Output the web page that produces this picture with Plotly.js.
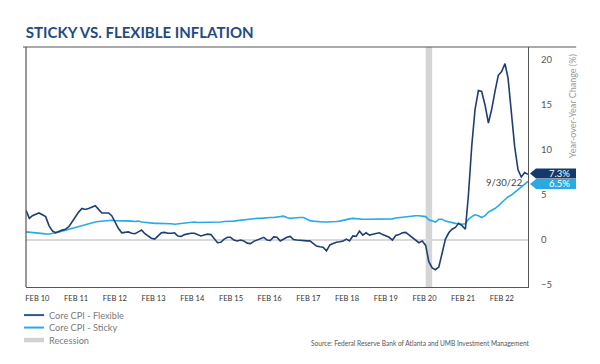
<!DOCTYPE html>
<html>
<head>
<meta charset="utf-8">
<script src="https://cdn.plot.ly/plotly-3.0.1.min.js"></script>
<style>
html,body{margin:0;padding:0;background:#fff;}
#chart{width:600px;height:364px;}
</style>
</head>
<body>
<div id="chart"></div>
<script>
// ---- Data (monthly, Jan 2010 .. Sep 2022), year-over-year % change ----
const startYear = 2010;
const startMonth = 1;
const flexible = [
  // 2010
  3.3, 2.4, 2.7, 2.9, 3.0, 2.8, 2.6, 1.6, 1.0, 0.8, 1.0, 1.1,
  // 2011
  1.2, 1.5, 2.0, 2.6, 3.1, 3.5, 3.4, 3.5, 3.7, 3.8, 3.4, 3.0,
  // 2012
  3.0, 3.0, 2.7, 2.0, 1.3, 0.8, 0.85, 0.9, 0.75, 0.7, 0.9, 1.1,
  // 2013
  0.7, 0.4, 0.2, 0.1, 0.4, 0.8, 0.85, 0.75, 0.75, 0.8, 0.45, 0.4,
  // 2014
  0.6, 0.7, 0.75, 0.75, 0.6, 0.45, 0.55, 0.65, 0.6, 0.1, -0.3, -0.25,
  // 2015
  0.1, 0.3, 0.3, 0.0, -0.1, 0.0, -0.1, -0.35, -0.4, -0.15, 0.0, 0.2,
  // 2016
  0.3, 0.0, -0.05, 0.35, 0.3, -0.1, 0.1, 0.3, 0.4, 0.05, 0.0, -0.05,
  // 2017
  -0.1, -0.1, -0.1, -0.4, -0.67, -0.75, -0.8, -1.2, -0.55, -0.4, -0.25, -0.2,
  // 2018
  -0.1, 0.1, -0.1, 0.45, 0.4, 1.0, 0.55, 0.8, 0.55, 0.65, 0.75, 0.8,
  // 2019
  0.6, 0.4, 0.3, 0.0, 0.5, 0.6, 0.8, 0.85, 0.55, 0.2, -0.05, -0.3,
  // 2020
  -0.1, -0.6, -2.4, -3.1, -3.3, -3.0, -1.5, 0.1, 0.8, 1.2, 1.4, 1.85,
  // 2021
  1.6, 1.2, 5.0, 10.5, 14.5, 16.6, 16.5, 15.0, 13.0, 14.5, 16.5, 18.3,
  // 2022
  18.7, 19.6, 18.0, 14.0, 10.4, 7.8, 7.0, 7.5, 7.3
];
const sticky = [
  // 2010
  0.9, 0.85, 0.8, 0.75, 0.72, 0.7, 0.68, 0.67, 0.7, 0.8, 0.9, 1.0,
  // 2011
  1.1, 1.2, 1.3, 1.37, 1.45, 1.6, 1.74, 1.8, 1.9, 2.0, 2.05, 2.1,
  // 2012
  2.1, 2.15, 2.2, 2.15, 2.15, 2.15, 2.1, 2.1, 2.1, 2.05, 2.1, 2.0,
  // 2013
  1.95, 1.9, 1.85, 1.85, 1.85, 1.85, 1.85, 1.8, 1.8, 1.75, 1.8, 1.8,
  // 2014
  1.85, 1.95, 2.0, 2.0, 1.95, 1.95, 1.95, 1.95, 2.0, 2.0, 2.0, 2.0,
  // 2015
  2.05, 2.05, 2.1, 2.1, 2.15, 2.2, 2.25, 2.3, 2.3, 2.35, 2.4, 2.4,
  // 2016
  2.45, 2.45, 2.5, 2.5, 2.55, 2.6, 2.65, 2.5, 2.4, 2.45, 2.5, 2.5,
  // 2017
  2.5, 2.3, 2.15, 2.1, 2.05, 2.0, 2.0, 2.0, 2.0, 2.05, 2.05, 2.1,
  // 2018
  2.2, 2.3, 2.35, 2.4, 2.35, 2.3, 2.3, 2.3, 2.3, 2.3, 2.3, 2.3,
  // 2019
  2.3, 2.35, 2.35, 2.35, 2.45, 2.5, 2.55, 2.6, 2.65, 2.7, 2.7, 2.7,
  // 2020
  2.65, 2.6, 2.25, 2.1, 2.0, 2.3, 2.3, 2.1, 2.0, 1.95, 1.85, 1.8,
  // 2021
  1.75, 1.8, 2.3, 2.6, 2.8, 2.7, 2.5, 2.7, 3.1, 3.3, 3.5, 3.8,
  // 2022
  4.2, 4.5, 4.8, 5.0, 5.3, 5.6, 5.85, 6.2, 6.5
];
const xTickLabels = ["FEB 10","FEB 11","FEB 12","FEB 13","FEB 14","FEB 15","FEB 16",
                     "FEB 17","FEB 18","FEB 19","FEB 20","FEB 21","FEB 22"];
const yTickVals = [-5, 0, 5, 10, 15, 20];
const recession = {start: "2020-02-01", end: "2020-04-01"};
const endDateLabel = "9/30/22";
const flexLabel = "7.3%";
const stickyLabel = "6.5%";

// ---- Build monthly dates ----
function monthDate(i) {
  const y = startYear + Math.floor((startMonth - 1 + i) / 12);
  const m = ((startMonth - 1 + i) % 12) + 1;
  return y + "-" + String(m).padStart(2, "0") + "-01";
}
const dates = flexible.map((_, i) => monthDate(i));
const xStart = dates[0], xEnd = dates[dates.length - 1];

// tick label positions along the axis (fraction of axis width)
const t0 = Date.parse(xStart), t1 = Date.parse(xEnd);
const tickVals = xTickLabels.map((_, k) => {
  const frac = (11.5 + 38.7 * k) / 502;
  return new Date(t0 + frac * (t1 - t0)).toISOString().slice(0, 10);
});

const yRange = [-5.22, 21.44];
const yToPaper = v => (v - yRange[0]) / (yRange[1] - yRange[0]);

const navy = "#1d3f73";
const sky = "#29abe2";
const frame = "#555555";
const font = "Lato, 'Open Sans', sans-serif";

const traces = [
  {x: dates, y: sticky, type: "scatter", mode: "lines", name: "Core CPI - Sticky",
   line: {color: sky, width: 1.6}, hoverinfo: "skip"},
  {x: dates, y: flexible, type: "scatter", mode: "lines", name: "Core CPI - Flexible",
   line: {color: navy, width: 1.6}, hoverinfo: "skip"}
];

const lastFlex = flexible[flexible.length - 1];
const lastSticky = sticky[sticky.length - 1];

function tagPath() {
  return "M 2 0 L 8 5 L 48 5 L 48 -5 L 8 -5 Z";
}

const shapes = [
  // recession band
  {type: "rect", xref: "x", yref: "paper", x0: recession.start, x1: recession.end, y0: 0, y1: 1,
   fillcolor: "#d4d5d7", line: {width: 0}, layer: "below"},
  // top frame line (extends past right axis)
  {type: "line", xref: "paper", yref: "paper", x0: -0.006, x1: 1.096, y0: 1, y1: 1,
   line: {color: frame, width: 1.2}},
  // left frame line
  {type: "line", xref: "paper", yref: "paper", x0: 0, x1: 0, y0: 0, y1: 1,
   line: {color: frame, width: 1.2}},
  // value tags
  {type: "path", xref: "paper", yref: "paper", xsizemode: "pixel", ysizemode: "pixel",
   xanchor: 1, yanchor: yToPaper(lastFlex) + 0.003, path: tagPath(),
   fillcolor: "#123a6b", line: {width: 0}},
  {type: "path", xref: "paper", yref: "paper", xsizemode: "pixel", ysizemode: "pixel",
   xanchor: 1, yanchor: yToPaper(lastSticky) - 0.01, path: tagPath(),
   fillcolor: sky, line: {width: 0}},
  // legend samples
  {type: "line", xref: "paper", yref: "paper", x0: -0.004, x1: 0.036, y0: -0.117, y1: -0.117,
   line: {color: "#2d5a93", width: 2}},
  {type: "line", xref: "paper", yref: "paper", x0: -0.004, x1: 0.036, y0: -0.169, y1: -0.169,
   line: {color: sky, width: 2}},
  {type: "line", xref: "paper", yref: "paper", x0: -0.004, x1: 0.036, y0: -0.221, y1: -0.221,
   line: {color: "#d0d1d3", width: 4.5}}
];

const annotations = [
  {xref: "paper", yref: "paper", x: 1.063, y: yToPaper(lastFlex) + 0.003, text: flexLabel,
   showarrow: false, xanchor: "center", yanchor: "middle",
   font: {family: font, size: 9.5, color: "#ffffff"}},
  {xref: "paper", yref: "paper", x: 1.063, y: yToPaper(lastSticky) - 0.01, text: stickyLabel,
   showarrow: false, xanchor: "center", yanchor: "middle",
   font: {family: font, size: 9.5, color: "#ffffff"}},
  {xref: "paper", yref: "paper", x: 0.952, y: yToPaper(lastSticky) - 0.006, text: endDateLabel,
   showarrow: false, xanchor: "center", yanchor: "middle",
   font: {family: font, size: 9.5, color: "#444444"}},
  // rotated y-axis title
  {xref: "paper", yref: "paper", x: 1.09, y: 0.755, text: "Year-over-Year Change (%)",
   showarrow: false, textangle: -90, xanchor: "center", yanchor: "middle",
   font: {family: font, size: 9, color: "#9a9a9a"}},
  // legend texts
  {xref: "paper", yref: "paper", x: 0.042, y: -0.117, text: "Core CPI - Flexible",
   showarrow: false, xanchor: "left", yanchor: "middle",
   font: {family: font, size: 9.2, color: "#7a7a7a"}},
  {xref: "paper", yref: "paper", x: 0.042, y: -0.169, text: "Core CPI - Sticky",
   showarrow: false, xanchor: "left", yanchor: "middle",
   font: {family: font, size: 9.2, color: "#7a7a7a"}},
  {xref: "paper", yref: "paper", x: 0.042, y: -0.221, text: "Recession",
   showarrow: false, xanchor: "left", yanchor: "middle",
   font: {family: font, size: 9.2, color: "#7a7a7a"}},
  // source
  {xref: "paper", yref: "paper", x: 1.008, y: -0.232, text: "Source: Federal Reserve Bank of Atlanta and UMB Investment Management",
   showarrow: false, xanchor: "right", yanchor: "middle",
   font: {family: font, size: 6.6, color: "#555555"}}
];

const layout = {
  width: 600, height: 364,
  margin: {l: 26, r: 72, t: 47, b: 77},
  paper_bgcolor: "#ffffff", plot_bgcolor: "#ffffff",
  showlegend: false,
  title: {text: "<b>STICKY VS. FLEXIBLE INFLATION</b>", x: 0.043, xanchor: "left",
          y: 0.91, yanchor: "middle",
          font: {family: font, size: 15, color: "#1f4a84"}},
  xaxis: {type: "date", range: [xStart, xEnd], showgrid: false, zeroline: false,
          showline: true, linecolor: frame, linewidth: 1.2,
          tickmode: "array", tickvals: tickVals, ticktext: xTickLabels,
          ticks: "outside", ticklen: 4, tickcolor: "rgba(0,0,0,0)",
          tickfont: {family: font, size: 7.5, color: "#333333"}, fixedrange: true},
  yaxis: {range: yRange, side: "right", showgrid: false,
          zeroline: true, zerolinecolor: "#d9d9d9", zerolinewidth: 2,
          showline: true, linecolor: frame, linewidth: 1.2,
          tickmode: "array", tickvals: yTickVals,
          ticks: "outside", ticklen: 10, tickcolor: "rgba(0,0,0,0)",
          tickfont: {family: font, size: 9.5, color: "#555555"}, fixedrange: true},
  shapes: shapes,
  annotations: annotations
};

Plotly.newPlot("chart", traces, layout, {staticPlot: true, displayModeBar: false});
</script>
</body>
</html>
